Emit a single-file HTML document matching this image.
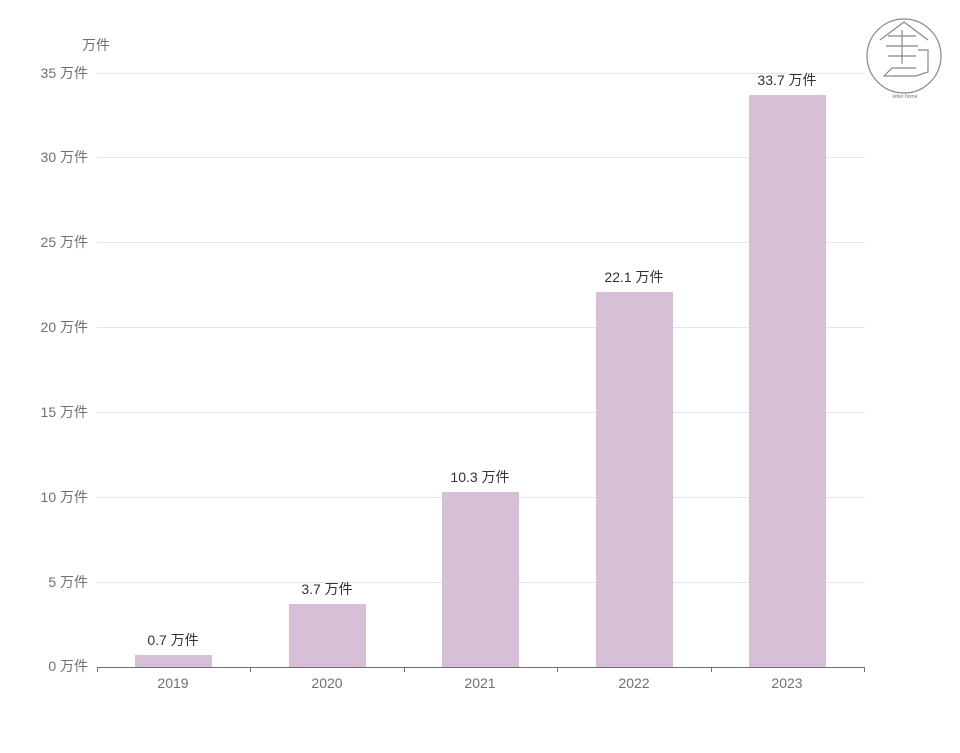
<!DOCTYPE html>
<html><head><meta charset="utf-8"><style>
html,body{margin:0;padding:0;background:#fff;width:960px;height:753px;overflow:hidden}
text{font-family:"Liberation Sans","Noto Sans CJK SC",sans-serif}
</style></head><body>
<svg width="960" height="753" xmlns="http://www.w3.org/2000/svg">
<g stroke="#e6e6f0" stroke-width="1">
<line x1="97" x2="865" y1="73.5" y2="73.5"/>
<line x1="97" x2="865" y1="157.5" y2="157.5"/>
<line x1="97" x2="865" y1="242.5" y2="242.5"/>
<line x1="97" x2="865" y1="327.5" y2="327.5"/>
<line x1="97" x2="865" y1="412.5" y2="412.5"/>
<line x1="97" x2="865" y1="497.5" y2="497.5"/>
<line x1="97" x2="865" y1="582.5" y2="582.5"/>
</g>
<g fill="#d8bfd8">
<rect x="135" y="655" width="77" height="12"/>
<rect x="289" y="604" width="77" height="63"/>
<rect x="442" y="492" width="77" height="175"/>
<rect x="596" y="292" width="77" height="375"/>
<rect x="749" y="95" width="77" height="572"/>
</g>
<g stroke="#6e7079" stroke-width="1">
<line x1="97" x2="865" y1="667.5" y2="667.5"/>
<line x1="97.5" x2="97.5" y1="667" y2="672"/>
<line x1="250.5" x2="250.5" y1="667" y2="672"/>
<line x1="404.5" x2="404.5" y1="667" y2="672"/>
<line x1="557.5" x2="557.5" y1="667" y2="672"/>
<line x1="711.5" x2="711.5" y1="667" y2="672"/>
<line x1="864.5" x2="864.5" y1="667" y2="672"/>
</g>
<g fill="#6e7079" font-size="14" text-anchor="end">
<text x="88" y="78">35 万件</text>
<text x="88" y="162">30 万件</text>
<text x="88" y="247">25 万件</text>
<text x="88" y="332">20 万件</text>
<text x="88" y="417">15 万件</text>
<text x="88" y="502">10 万件</text>
<text x="88" y="587">5 万件</text>
<text x="88" y="671">0 万件</text>
</g>
<text x="82" y="50" fill="#6e7079" font-size="14">万件</text>
<g fill="#6e7079" font-size="14" text-anchor="middle">
<text x="173" y="688">2019</text>
<text x="327" y="688">2020</text>
<text x="480" y="688">2021</text>
<text x="634" y="688">2022</text>
<text x="787" y="688">2023</text>
</g>
<g fill="#333" font-size="14" text-anchor="middle">
<text x="173" y="645">0.7 万件</text>
<text x="327" y="594">3.7 万件</text>
<text x="480" y="482">10.3 万件</text>
<text x="634" y="282">22.1 万件</text>
<text x="787" y="85">33.7 万件</text>
</g>
<g fill="none" stroke="#888" stroke-width="1.2">
<circle cx="904" cy="56" r="37"/>
<path d="M880 40 L904 22 L928 40"/>
<path d="M888 36 H916 M886 46 H918 M888 56 H916 M902 30 V64 M918 50 H928 V72 L916 76 H884 L892 68 H916"/>
</g>
<text x="905" y="98" fill="#777" font-size="5" text-anchor="middle">letter home</text>
</svg>
</body></html>
